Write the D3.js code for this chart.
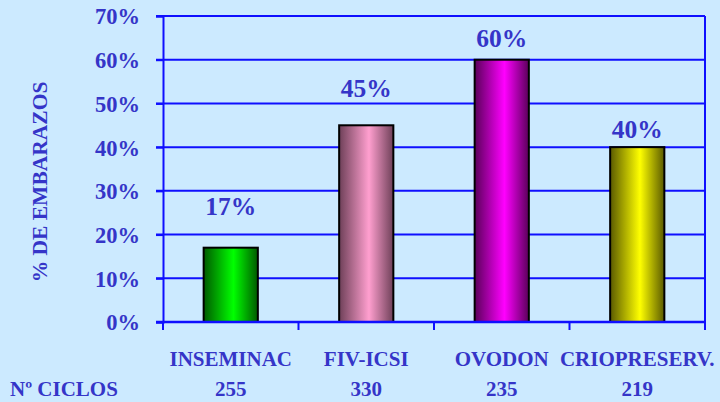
<!DOCTYPE html>
<html>
<head>
<meta charset="utf-8">
<script src="https://cdn.jsdelivr.net/npm/d3@7"></script>
<style>
  html, body { margin: 0; padding: 0; background: #cceaff; }
  svg { display: block; }
  text { font-family: "Liberation Serif", "Times New Roman", serif; font-weight: bold; fill: #3535c8; }
</style>
</head>
<body>
<div id="area"></div>
<script>
let categories = ['INSEMINAC', 'FIV-ICSI', 'OVODON', 'CRIOPRESERV.']
let values = [17, 45, 60, 40]
let ciclos = [255, 330, 235, 219]
let yTicks = [0, 10, 20, 30, 40, 50, 60, 70]

// light / dark shade of each bar
let bar_colors = [
  {light: '#00ff00', dark: '#005a00'},
  {light: '#ff9fcf', dark: '#6e4058'},
  {light: '#ff00ff', dark: '#5a005a'},
  {light: '#ffff00', dark: '#5a5a00'}
]
// how far each value label sits above its bar (px), as in the slide
let label_lift = [33, 28, 13, 9]

let width = 720
let height = 402
let margin = {top: 16, right: 15, bottom: 80, left: 163}
let axis_color = '#0f0fff'

let svg = d3.select('#area').append('svg')
  .attr('width', width)
  .attr('height', height)

let defs = svg.append('defs')
bar_colors.forEach(function(c, i) {
  let g = defs.append('linearGradient')
    .attr('id', 'grad' + i)
    .attr('x1', '0%').attr('x2', '100%')
    .attr('y1', '0%').attr('y2', '0%')
  g.append('stop').attr('offset', '0%').attr('stop-color', c.dark)
  g.append('stop').attr('offset', '55%').attr('stop-color', c.light)
  g.append('stop').attr('offset', '100%').attr('stop-color', c.dark)
})

let x = d3.scaleBand()
  .domain(categories)
  .range([margin.left, width - margin.right])
  .paddingInner(0.6)
  .paddingOuter(0.3)

let xOuter = d3.scaleBand()
  .domain(categories)
  .range([margin.left, width - margin.right])

let y = d3.scaleLinear()
  .domain([0, 70])
  .range([height - margin.bottom, margin.top])

// gridlines
svg.append('g')
  .selectAll('line')
  .data(yTicks)
  .join('line')
  .attr('x1', margin.left - 7)
  .attr('x2', width - margin.right)
  .attr('y1', d => y(d))
  .attr('y2', d => y(d))
  .attr('stroke', axis_color)
  .attr('stroke-width', 2)

// y axis
let yAxis = svg.append('g')
  .attr('transform', 'translate(' + margin.left + ',0)')
  .call(d3.axisLeft(y).tickValues(yTicks).tickFormat(d => d + '%').tickSize(7).tickPadding(16))
yAxis.select('.domain').attr('stroke', axis_color).attr('stroke-width', 2)
yAxis.selectAll('.tick line').attr('stroke', axis_color).attr('stroke-width', 2)
yAxis.selectAll('text')
  .attr('font-size', 22.5)
  .attr('fill', '#3535c8')
  .attr('dy', '0.35em')

// right border
svg.append('line')
  .attr('x1', width - margin.right).attr('x2', width - margin.right)
  .attr('y1', margin.top).attr('y2', height - margin.bottom + 8)
  .attr('stroke', axis_color).attr('stroke-width', 2)

// bars
svg.append('g')
  .selectAll('rect')
  .data(values)
  .join('rect')
  .attr('x', (d, i) => x(categories[i]))
  .attr('width', x.bandwidth())
  .attr('y', d => y(d))
  .attr('height', d => y(0) - y(d))
  .attr('fill', (d, i) => 'url(#grad' + i + ')')
  .attr('stroke', '#000')
  .attr('stroke-width', 2)

// x axis
let xAxis = svg.append('g')
  .attr('transform', 'translate(0,' + y(0) + ')')
svg.append('g')
  .selectAll('line')
  .data(categories.concat(['end']))
  .join('line')
  .attr('x1', d => d == 'end' ? width - margin.right : xOuter(d))
  .attr('x2', d => d == 'end' ? width - margin.right : xOuter(d))
  .attr('y1', y(0))
  .attr('y2', y(0) + 8)
  .attr('stroke', axis_color)
  .attr('stroke-width', 2)
xAxis.append('line')
  .attr('x1', margin.left - 7).attr('x2', width - margin.right)
  .attr('stroke', axis_color).attr('stroke-width', 2.5)

// value labels
svg.append('g')
  .selectAll('text')
  .data(values)
  .join('text')
  .attr('x', (d, i) => x(categories[i]) + x.bandwidth() / 2)
  .attr('y', (d, i) => y(d) - label_lift[i])
  .attr('text-anchor', 'middle')
  .attr('font-size', 25.5)
  .text(d => d + '%')

// category labels
svg.append('g')
  .selectAll('text')
  .data(categories)
  .join('text')
  .attr('x', d => x(d) + x.bandwidth() / 2)
  .attr('y', 366)
  .attr('text-anchor', 'middle')
  .attr('font-size', 21)
  .text(d => d)

// cycles row
svg.append('text')
  .attr('x', 10)
  .attr('y', 396)
  .attr('font-size', 21)
  .text('Nº CICLOS')

svg.append('g')
  .selectAll('text')
  .data(ciclos)
  .join('text')
  .attr('x', (d, i) => x(categories[i]) + x.bandwidth() / 2)
  .attr('y', 396)
  .attr('text-anchor', 'middle')
  .attr('font-size', 21)
  .text(d => d)

// y title
svg.append('text')
  .attr('transform', 'translate(47,' + ((margin.top + y(0)) / 2 + 13) + ') rotate(-90)')
  .attr('text-anchor', 'middle')
  .attr('font-size', 21.5)
  .text('% DE EMBARAZOS')
</script>
</body>
</html>
